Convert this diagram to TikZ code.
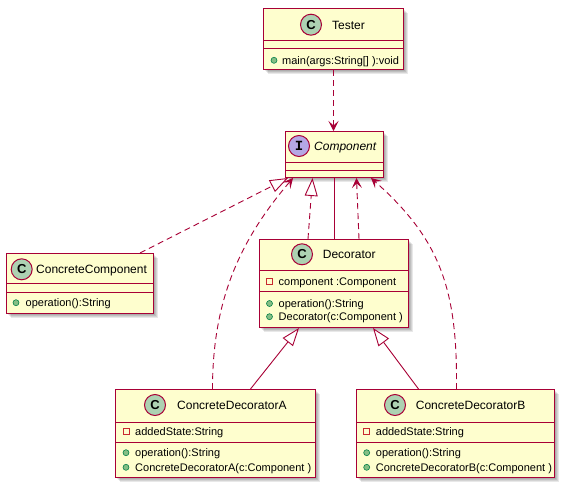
\documentclass[tikz,border=0pt]{standalone}
\usepackage{fontspec}
\setmainfont{Liberation Sans}
\setmonofont{Liberation Mono}
\usetikzlibrary{arrows.meta,calc}

\definecolor{umlborder}{HTML}{A80036}
\definecolor{umlfill}{HTML}{FEFECE}
\definecolor{classspot}{HTML}{ADD1B2}
\definecolor{ifacespot}{HTML}{B4A7E5}
\definecolor{pubfill}{HTML}{84BE84}
\definecolor{publine}{HTML}{038048}
\definecolor{privline}{HTML}{C82930}

\tikzset{
  classbox/.style={rectangle, draw=umlborder, fill=umlfill, line width=1pt, inner sep=0pt},
  sepline/.style={draw=umlborder, line width=1pt},
  spot/.style={circle, draw=umlborder, line width=1pt, minimum size=21pt, inner sep=0pt,
    font=\fontsize{13}{13}\selectfont\bfseries},
  cname/.style={anchor=base west, inner sep=0pt, font=\fontsize{12}{14}\selectfont},
  member/.style={anchor=base west, inner sep=0pt, font=\fontsize{11}{13}\selectfont},
  pub/.style={circle, draw=publine, fill=pubfill, line width=0.6pt, minimum size=6pt, inner sep=0pt},
  priv/.style={rectangle, draw=privline, line width=0.8pt, minimum size=6pt, inner sep=0pt},
  link/.style={draw=umlborder, line width=0.9pt},
  dashedlink/.style={link, dash pattern=on 6pt off 4pt},
  dep/.style={dashedlink, -{Stealth[length=10pt,width=10pt,inset=4.5pt]}},
  realize/.style={dashedlink, -{Triangle[length=18pt,width=13pt,fill=white]}},
  extend/.style={link, -{Triangle[length=18pt,width=13pt,fill=white]}},
}

% class box with a soft drop shadow: name, left, top, right, bottom
\newcommand\umlbox[5]{%
  \foreach \s in {1.5,2.5,3.5,4.5}{%
    \fill[black,opacity=0.09] (#2+\s,#3+\s) rectangle (#4+\s,#5+\s);}
  \node[classbox, minimum width={#4-#2}, minimum height={#5-#3}, anchor=north west] (#1) at (#2,#3) {};
}
% horizontal compartment separator of a box at height y
\newcommand\umlsep[2]{\draw[sepline] (#1.west |- 0,#2) -- (#1.east |- 0,#2);}

\begin{document}
\begin{tikzpicture}[x=1pt, y=-1pt]
\useasboundingbox (0,0) rectangle (566,488);
\fill[white] (0,0) rectangle (566,488);

% ---------- Tester ----------
\umlbox{tester}{263}{8}{403}{69}
\umlsep{tester}{40}
\umlsep{tester}{48}
\node[spot, fill=classspot] (testerSpot) at (311,24.7) {C};
\node[cname] (testerName) at (332,29) {Tester};
\node[pub] (testerM1) at (274,60.3) {};
\node[member] (testerM1t) at (282,64.3) {main(args:String[] ):void};

% ---------- Component ----------
\umlbox{comp}{285}{131}{383}{177}
\umlsep{comp}{162}
\umlsep{comp}{170}
\node[spot, fill=ifacespot, font=\fontsize{14}{14}\selectfont\ttfamily\bfseries] (compSpot) at (299,146) {I};
\node[cname, font=\fontsize{12}{14}\selectfont\itshape] (compName) at (314,150.3) {Component};

% ---------- ConcreteComponent ----------
\umlbox{cc}{6}{253}{153}{313}
\umlsep{cc}{283}
\umlsep{cc}{292}
\node[spot, fill=classspot] (ccSpot) at (21.7,269.3) {C};
\node[cname] (ccName) at (36,273.6) {ConcreteComponent};
\node[pub] (ccM1) at (16,302.7) {};
\node[member] (ccM1t) at (25.5,306.7) {operation():String};

% ---------- Decorator ----------
\umlbox{dec}{259}{239}{408}{327}
\umlsep{dec}{270}
\umlsep{dec}{291}
\node[spot, fill=classspot] (decSpot) at (302,254.3) {C};
\node[cname] (decName) at (322.7,258.6) {Decorator};
\node[priv] (decA1) at (269.5,281) {};
\node[member] (decA1t) at (278.5,285) {component :Component};
\node[pub] (decM1) at (269.5,303.5) {};
\node[member] (decM1t) at (278.5,307.5) {operation():String};
\node[pub] (decM2) at (269.5,316.7) {};
\node[member] (decM2t) at (278.5,320.7) {Decorator(c:Component )};

% ---------- ConcreteDecoratorA ----------
\umlbox{cda}{115}{389}{315}{477}
\umlsep{cda}{422}
\umlsep{cda}{442}
\node[spot, fill=classspot] (cdaSpot) at (155,405) {C};
\node[cname] (cdaName) at (177,409.3) {ConcreteDecoratorA};
\node[priv] (cdaA1) at (126,431.7) {};
\node[member] (cdaA1t) at (135,435.7) {addedState:String};
\node[pub] (cdaM1) at (126,452.7) {};
\node[member] (cdaM1t) at (135,456.7) {operation():String};
\node[pub] (cdaM2) at (126,467.3) {};
\node[member] (cdaM2t) at (135,471.3) {ConcreteDecoratorA(c:Component )};

% ---------- ConcreteDecoratorB ----------
\umlbox{cdb}{356}{389}{554}{477}
\umlsep{cdb}{422}
\umlsep{cdb}{442}
\node[spot, fill=classspot] (cdbSpot) at (395,405) {C};
\node[cname] (cdbName) at (415.7,409.3) {ConcreteDecoratorB};
\node[priv] (cdbA1) at (366.7,431.7) {};
\node[member] (cdbA1t) at (375.7,435.7) {addedState:String};
\node[pub] (cdbM1) at (366.7,452.7) {};
\node[member] (cdbM1t) at (375.7,456.7) {operation():String};
\node[pub] (cdbM2) at (366.7,467.3) {};
\node[member] (cdbM2t) at (375.7,471.3) {ConcreteDecoratorB(c:Component )};

% ---------- relations ----------
\draw[dep] (tester.south) -- (tester.south |- comp.north);
\draw[realize] ([xshift=-14pt]cc.north east) -- ([xshift=3pt]comp.south west);
\draw[realize] ([xshift=-26pt]dec.north) -- ([xshift=-22pt]comp.south);
\draw[link] (dec.north) -- (dec.north |- comp.south);
\draw[dep] ([xshift=25pt]dec.north) -- ([xshift=22pt]comp.south);
\draw[dep] ([xshift=-3pt]cda.north) .. controls +(0,-89) and +(-53,62) .. ([xshift=8pt]comp.south west);
\draw[dep] ([xshift=1pt]cdb.north) .. controls +(1,-99) and +(70,62) .. ([xshift=-13pt]comp.south east);
\draw[extend] ([xshift=35pt]cda.north) -- ([xshift=-35pt]dec.south);
\draw[extend] ([xshift=-37pt]cdb.north) -- ([xshift=39pt]dec.south);
\end{tikzpicture}
\end{document}
